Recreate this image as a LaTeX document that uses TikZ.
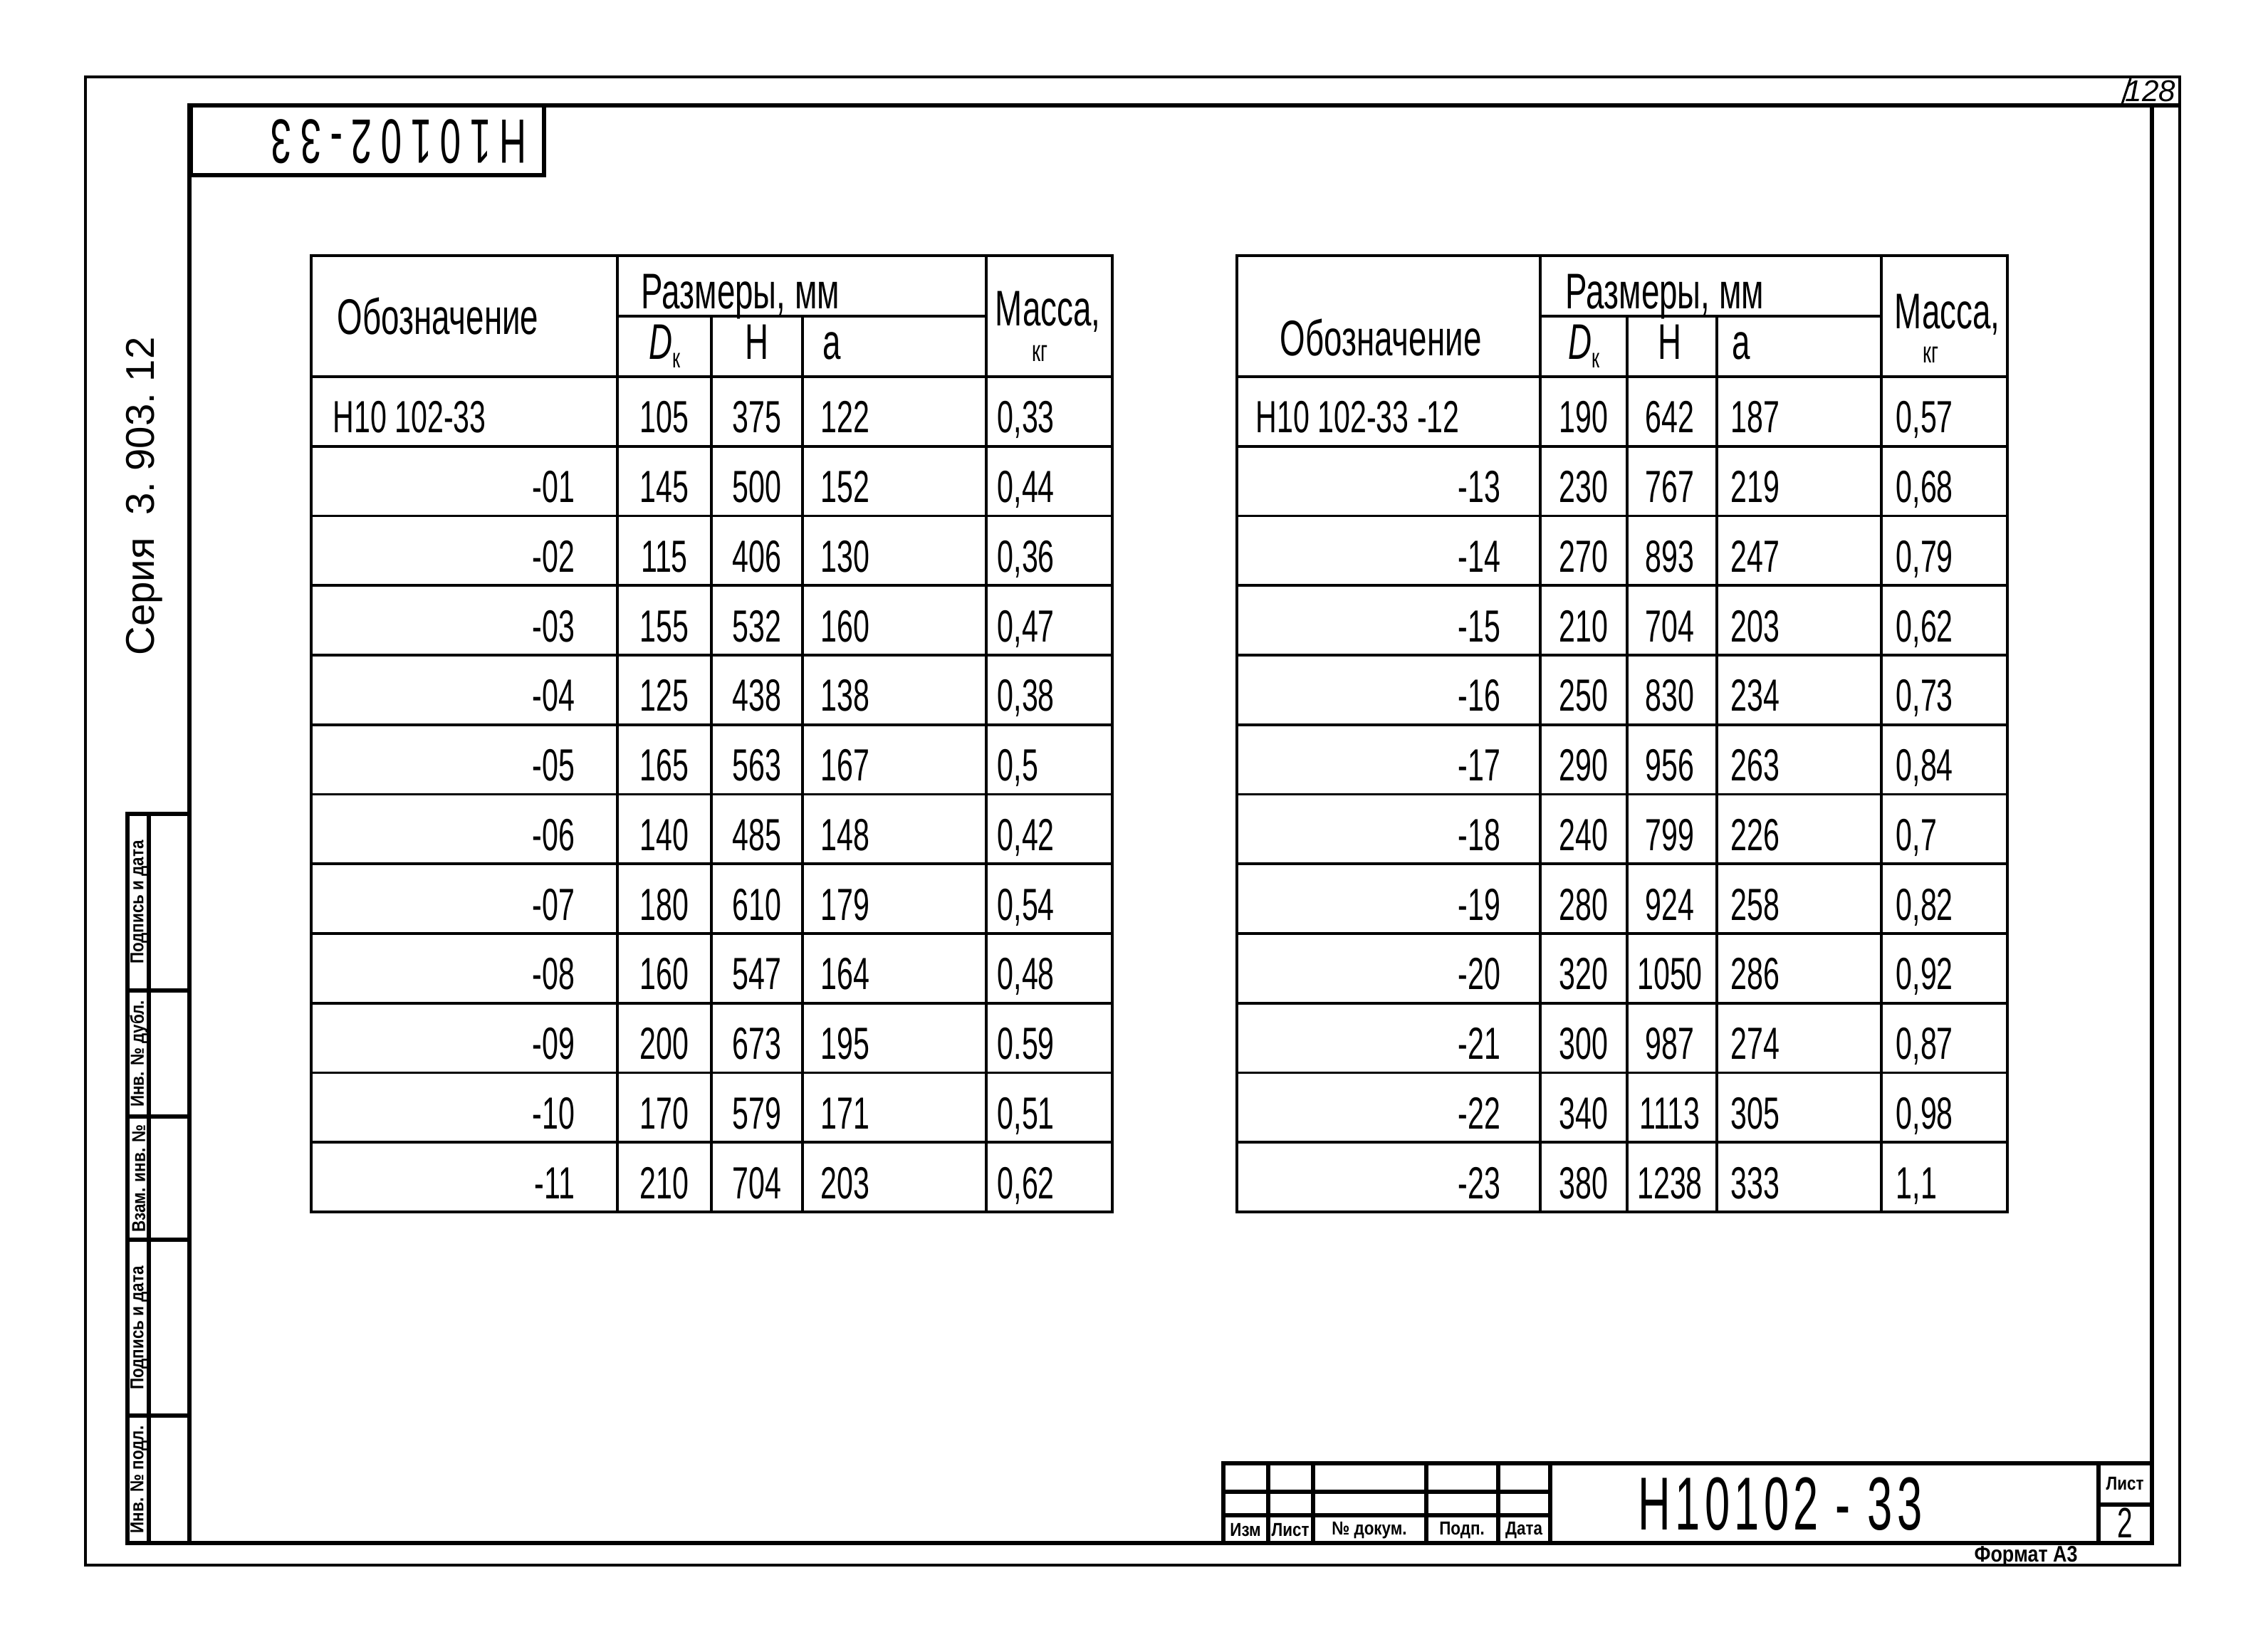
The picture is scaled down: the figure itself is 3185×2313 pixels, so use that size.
\documentclass[tikz,border=0pt]{standalone}
\usepackage{fontspec}
\setmainfont{Liberation Sans}[FakeStretch=0.65]
\newfontfamily\stripfont{Liberation Sans}
\newfontfamily\stampfont{Liberation Sans}[FakeStretch=0.85]
\newfontfamily\codefont{Liberation Sans}[FakeStretch=0.6,LetterSpace=6]
\newfontfamily\widecodefont{Liberation Sans}[FakeStretch=0.6,LetterSpace=14]
\usetikzlibrary{positioning}
\newcommand\cellsize{\fontsize{18}{20}\selectfont}
\newcommand\headsize{\fontsize{20}{22}\selectfont}
\tikzset{
    outerline/.style = {line width=0.9pt},
    frameline/.style = {line width=1.5pt},
    gridline/.style = {line width=1.1pt},
    cell/.style = {inner sep=0pt, font=\cellsize},
    head/.style = {inner sep=0pt, font=\headsize},
    striplabel/.style = {
        inner sep=0pt,
        rotate=90,
        font=\stampfont\bfseries\fontsize{7.5}{8}\selectfont
    },
    blocklabel/.style = {
        inner sep=0pt,
        font=\stampfont\bfseries\fontsize{7.5}{8}\selectfont
    },
}

\begin{document}
\begin{tikzpicture}[x=0.01cm, y=-0.01cm]
            \path[fill=white] (0,0) rectangle (3185,2313);
            \useasboundingbox (0,0) rectangle (3185,2313);

            \path[draw, outerline] (120,108) rectangle (3061,2198);
            \path[draw, frameline] (266,2167) -- (266,148) -- (3061,148);
            \path[draw, frameline] (179,2167) -- (3022,2167) -- (3022,148);
            \path[draw, outerline] (2980,146) -- (2992,110);
            \node[inner sep=0pt, font=\stripfont\itshape\fontsize{12}{13}\selectfont] (sheetno) at (3020,128) {128};

            \path[draw, frameline] (268,148) rectangle (764,246);
            \node[inner sep=0pt, rotate=180, font=\widecodefont\fontsize{25}{27}\selectfont] (stampcode) at (560,199) {Н10102-33};

            \node[inner sep=0pt, rotate=90, font=\stripfont\fontsize{16}{18}\selectfont] (series) at (203,697) {Серия~~3.~903.~12};

            \path[draw, frameline] (179,1143) rectangle (266,2167);
            \path[draw, frameline] (209,1143) -- (209,2167);
            \foreach \y in {1391,1568,1741,1988}
                \path[draw, frameline] (179,\y) -- (266,\y);
            \node[striplabel] (sign1) at (195,1267) {Подпись и дата};
            \node[striplabel] (invdup) at (195,1480) {Инв. № дубл.};
            \node[striplabel] (replinv) at (195,1655) {Взам. инв. №};
            \node[striplabel] (sign2) at (195,1865) {Подпись и дата};
            \node[striplabel] (invorig) at (195,2078) {Инв. № подл.};

            \path[draw, frameline] (1718,2055) rectangle (3022,2167);
            \foreach \x in {1781,1844,2003,2104,2177}
                \path[draw, frameline] (\x,2055) -- (\x,2167);
            \path[draw, frameline] (1718,2095) -- (2177,2095);
            \path[draw, frameline] (1718,2128) -- (2177,2128);
            \path[draw, frameline] (2947,2055) -- (2947,2167);
            \path[draw, frameline] (2947,2113) -- (3022,2113);
            \node[blocklabel] (izm) at (1749,2149) {Изм};
            \node[blocklabel] (list) at (1812,2149) {Лист};
            \node[blocklabel] (docum) at (1923,2149) {№ докум.};
            \node[blocklabel] (podp) at (2053,2149) {Подп.};
            \node[blocklabel] (data) at (2140,2149) {Дата};
            \node[blocklabel] (sheet) at (2984,2084) {Лист};
            \node[inner sep=0pt, font=\fontsize{17}{19}\selectfont] (sheetnum) at (2984,2139) {2};
            \node[inner sep=0pt, font=\codefont\fontsize{30}{32}\selectfont] (title) at (2500,2112) {Н10102 - 33};
            \node[blocklabel, font=\stampfont\bfseries\fontsize{9}{10}\selectfont] (format) at (2845,2186) {Формат А3};

            \path[draw, gridline] (437,359) rectangle (1562,1702);
            \foreach \x in {867,1385}
                \path[draw, gridline] (\x,359) -- (\x,1702);
            \foreach \x in {999,1127}
                \path[draw, gridline] (\x,444) -- (\x,1702);
            \path[draw, gridline] (867,444) -- (1385,444);
            \foreach \k in {0,...,11}
                \path[draw, gridline] (437,{529+97.75*\k}) -- (1562,{529+97.75*\k});

            \node[head, anchor=base west] (ldes) at (473,470) {Обозначение};
            \node[head, anchor=base west] (lsize) at (900,434) {Размеры, мм};
            \node[head, anchor=base west] (lmass) at (1397,458) {Масса,};
            \node[inner sep=0pt, font=\fontsize{12}{13}\selectfont] (lkg) at (1460,496) {кг};
            \node[head, anchor=base] (ldk) at (933,505) {{\itshape D}\raisebox{-0.3ex}{\fontsize{11}{12}\selectfont к}};
            \node[head, anchor=base] (lh) at (1063,505) {Н};
            \node[head, anchor=base west] (la) at (1155,505) {а};

            \node[cell, anchor=base west] (ldes0) at (467,{529+97.75*0.5+30}) {Н10 102-33};
            \foreach \des [count=\i] in {-01,-02,-03,-04,-05,-06,-07,-08,-09,-10,-11}
                \node[cell, anchor=base east] (ldes\i) at (808,{529+97.75*(\i+0.5)+30}) {\des};
            \foreach \dk/\hh/\aa/\mass [count=\i from 0] in {105/375/122/{0,33}, 145/500/152/{0,44},
                    115/406/130/{0,36}, 155/532/160/{0,47}, 125/438/138/{0,38}, 165/563/167/{0,5},
                    140/485/148/{0,42}, 180/610/179/{0,54}, 160/547/164/{0,48}, 200/673/195/{0.59},
                    170/579/171/{0,51}, 210/704/203/{0,62}} {
                \node[cell, anchor=base] (ldk\i) at (933,{529+97.75*(\i+0.5)+30}) {\dk};
                \node[cell, anchor=base] (lh\i) at (1063,{529+97.75*(\i+0.5)+30}) {\hh};
                \node[cell, anchor=base west] (la\i) at (1152,{529+97.75*(\i+0.5)+30}) {\aa};
                \node[cell, anchor=base west] (lm\i) at (1400,{529+97.75*(\i+0.5)+30}) {\mass};
            }

            \path[draw, gridline] (1737,359) rectangle (2819,1702);
            \foreach \x in {2163,2642}
                \path[draw, gridline] (\x,359) -- (\x,1702);
            \foreach \x in {2285,2411}
                \path[draw, gridline] (\x,444) -- (\x,1702);
            \path[draw, gridline] (2163,444) -- (2642,444);
            \foreach \k in {0,...,11}
                \path[draw, gridline] (1737,{529+97.75*\k}) -- (2819,{529+97.75*\k});

            \node[head, anchor=base west] (rdes) at (1797,500) {Обозначение};
            \node[head, anchor=base west] (rsize) at (2198,434) {Размеры, мм};
            \node[head, anchor=base west] (rmass) at (2660,462) {Масса,};
            \node[inner sep=0pt, font=\fontsize{12}{13}\selectfont] (rkg) at (2711,498) {кг};
            \node[head, anchor=base] (rdk) at (2224,505) {{\itshape D}\raisebox{-0.3ex}{\fontsize{11}{12}\selectfont к}};
            \node[head, anchor=base] (rh) at (2345,505) {Н};
            \node[head, anchor=base west] (ra) at (2432,505) {а};

            \node[cell, anchor=base west] (rdes0) at (1763,{529+97.75*0.5+30}) {Н10 102-33 -12};
            \foreach \des [count=\i] in {-13,-14,-15,-16,-17,-18,-19,-20,-21,-22,-23}
                \node[cell, anchor=base east] (rdes\i) at (2108,{529+97.75*(\i+0.5)+30}) {\des};
            \foreach \dk/\hh/\aa/\mass [count=\i from 0] in {190/642/187/{0,57}, 230/767/219/{0,68},
                    270/893/247/{0,79}, 210/704/203/{0,62}, 250/830/234/{0,73}, 290/956/263/{0,84},
                    240/799/226/{0,7}, 280/924/258/{0,82}, 320/1050/286/{0,92}, 300/987/274/{0,87},
                    340/1113/305/{0,98}, 380/1238/333/{1,1}} {
                \node[cell, anchor=base] (rdk\i) at (2224,{529+97.75*(\i+0.5)+30}) {\dk};
                \node[cell, anchor=base] (rh\i) at (2345,{529+97.75*(\i+0.5)+30}) {\hh};
                \node[cell, anchor=base west] (ra\i) at (2430,{529+97.75*(\i+0.5)+30}) {\aa};
                \node[cell, anchor=base west] (rm\i) at (2662,{529+97.75*(\i+0.5)+30}) {\mass};
            }

        \end{tikzpicture}
\end{document}
